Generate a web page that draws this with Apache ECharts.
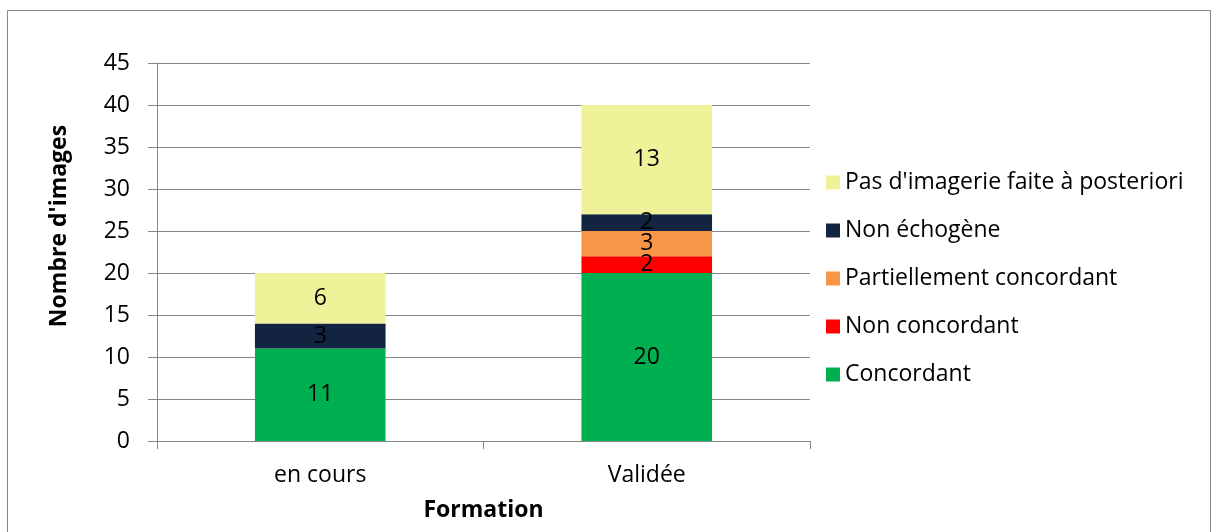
<!DOCTYPE html>
<html>
<head>
<meta charset="utf-8">
<script src="https://cdn.jsdelivr.net/npm/echarts@6/dist/echarts.min.js"></script>
<style>
html,body{margin:0;padding:0;background:#fff;}
#chart{width:1218px;height:532px;}
</style>
</head>
<body>
<div id="chart"></div>
<script>
const categories = ["en cours", "Validée"];
const concordant = [11, 20];
const nonConcordant = [0, 2];
const partiellement = [0, 3];
const nonEchogene = [3, 2];
const pasImagerie = [6, 13];
const seriesNames = ["Concordant", "Non concordant", "Partiellement concordant", "Non échogène", "Pas d'imagerie faite à posteriori"];
const seriesColors = ["#00B050", "#FF0000", "#F79646", "#12243F", "#F0F29A"];
const seriesValues = [concordant, nonConcordant, partiellement, nonEchogene, pasImagerie];
const yAxisTitle = "Nombre d'images";

const FONT = "Open Sans";
const FS = 23;
const chart = echarts.init(document.getElementById('chart'));
chart.setOption({
  animation: false,
  textStyle: { fontFamily: FONT },
  graphic: [{
    type: 'rect', shape: { x: 7.5, y: 10.5, width: 1203, height: 530 },
    style: { fill: 'none', stroke: '#868686', lineWidth: 1 }
  }, {
    type: 'text', x: 59, y: 226, rotation: Math.PI / 2,
    style: { text: yAxisTitle, fontFamily: FONT, fontSize: FS, fontWeight: 'bold', fill: '#000', align: 'center', verticalAlign: 'middle' }
  }],
  grid: { left: 157, right: 408, top: 63, bottom: 91 },
  legend: {
    orient: 'vertical', left: 821, top: 166,
    data: seriesNames.slice().reverse(),
    icon: 'rect', itemWidth: 14, itemHeight: 14, itemGap: 25,
    textStyle: { fontFamily: FONT, fontSize: FS, color: '#000', lineHeight: 23 }
  },
  xAxis: {
    type: 'category', data: categories,
    name: 'Formation', nameLocation: 'middle', nameGap: 58,
    nameTextStyle: { fontFamily: FONT, fontSize: FS, fontWeight: 'bold', color: '#000' },
    axisLine: { lineStyle: { color: '#868686' } },
    axisTick: { show: true, length: 8, lineStyle: { color: '#868686' } },
    axisLabel: { fontFamily: FONT, fontSize: FS, color: '#000', margin: 23 }
  },
  yAxis: {
    type: 'value', min: 0, max: 45, interval: 5,
    axisLine: { show: true, lineStyle: { color: '#868686' } },
    axisTick: { show: true, length: 9, lineStyle: { color: '#868686' } },
    splitLine: { lineStyle: { color: '#868686' } },
    axisLabel: { fontFamily: FONT, fontSize: FS, color: '#000', margin: 27 }
  },
  series: seriesNames.map((n, i) => ({
    name: n, type: 'bar', stack: 'total', barWidth: '40%',
    itemStyle: { color: seriesColors[i] },
    label: {
      show: true, position: 'inside', color: '#000', fontFamily: FONT, fontSize: FS,
      formatter: p => p.value ? String(p.value) : ''
    },
    data: seriesValues[i]
  }))
});
</script>
</body>
</html>
